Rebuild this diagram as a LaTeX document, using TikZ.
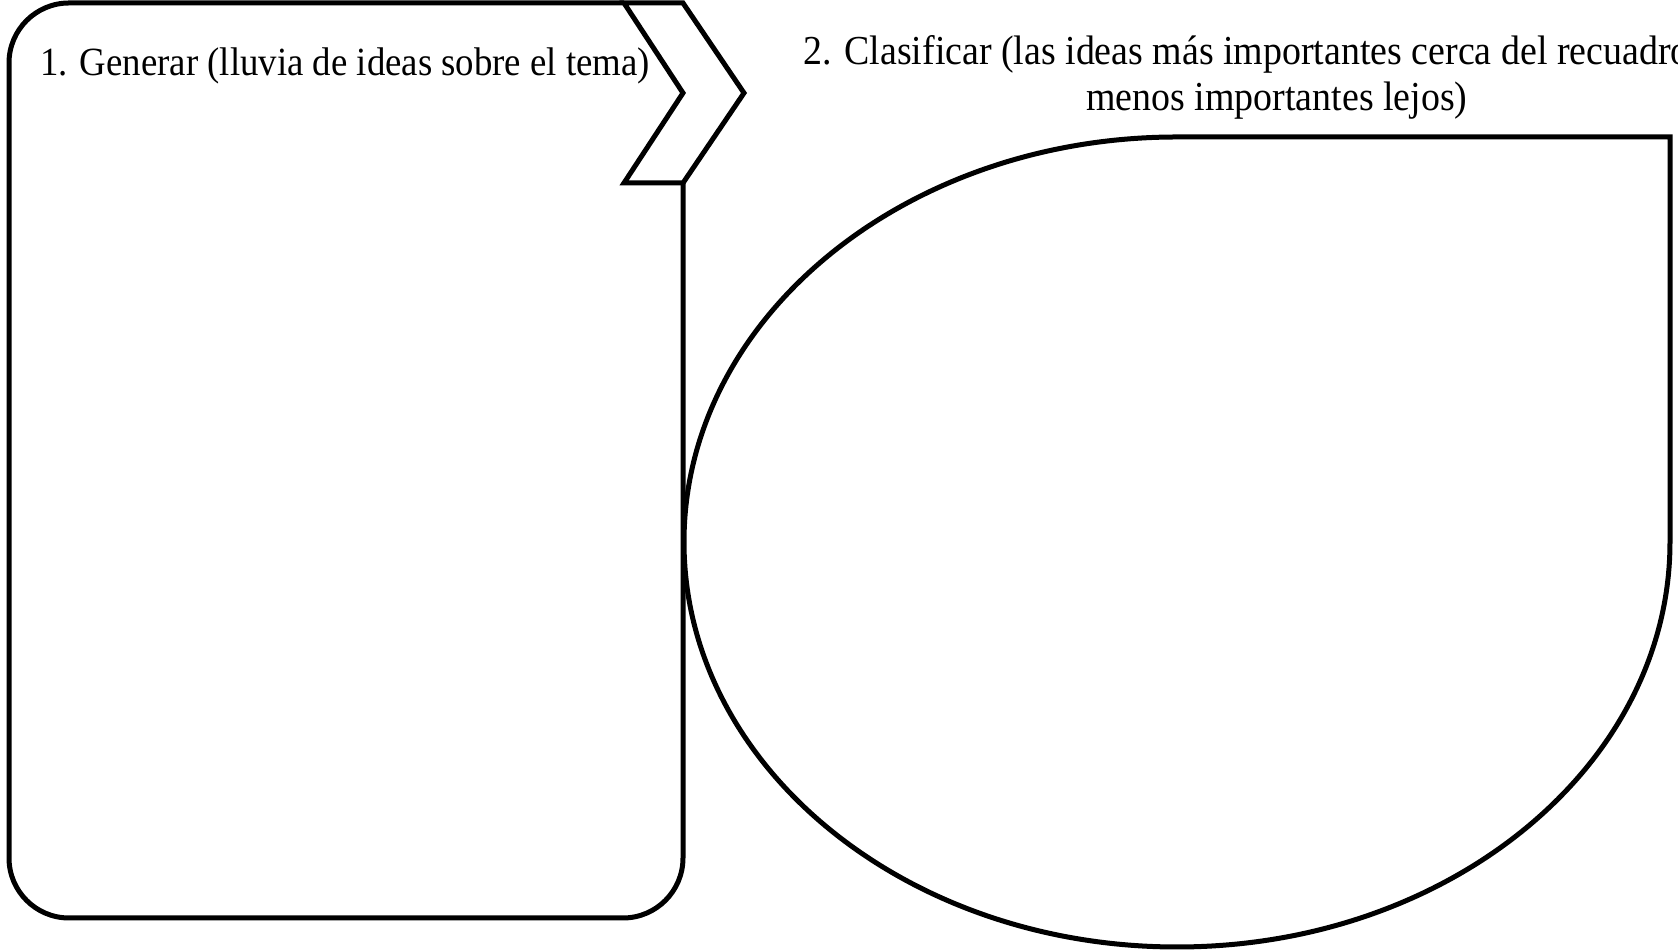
\documentclass[tikz,border=0pt]{standalone}
\usepackage{fontspec}
\setmainfont{Liberation Serif}[FakeStretch=0.92]
\usepackage{tikz}

\tikzset{
  contorno/.style={line width=2.5pt, line join=miter, fill=white},
  etiqueta/.style={font=\fontsize{20}{22.5}\selectfont, inner sep=0pt},
}

\begin{document}
\begin{tikzpicture}[x=0.5pt, y=0.5pt]
            \useasboundingbox (0,0) rectangle (1678,951);
            % recuadro 1
            \draw[contorno, rounded corners=30pt] (683,768) -- (683,33) -- (9,33) -- (9,948) -- (624,948);
            % flecha
            \draw[contorno] (624,948) -- (683,948) -- (744,858) -- (683,768) -- (624,768) -- (683,858) -- cycle;
            % recuadro 2
            \draw[contorno] (1177,814) arc[start angle=90, end angle=360, x radius=493, y radius=405] -- (1670,814) -- cycle;

            \node[etiqueta] (generar) at (345,885) {1. Generar (lluvia de ideas sobre el tema)};
            \node[etiqueta, font=\fontsize{20.6}{23}\selectfont, align=center] (clasificar) at (1277,874) {2. Clasificar (las ideas más importantes cerca del recuadro\phantom{, las}\\menos importantes lejos)};
\end{tikzpicture}
\end{document}
